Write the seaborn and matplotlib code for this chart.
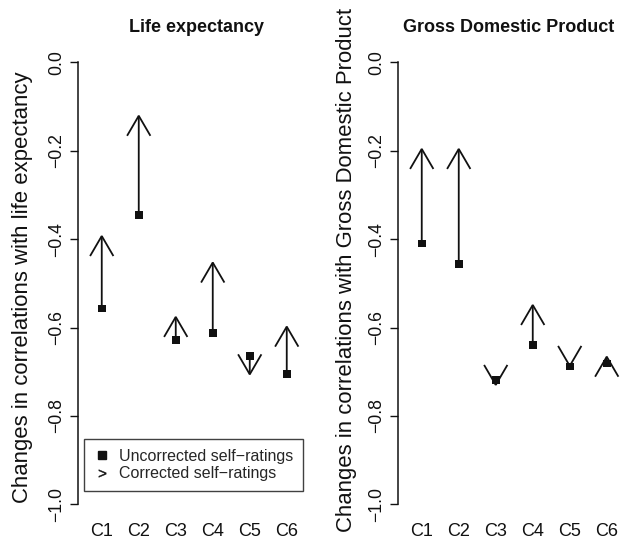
import matplotlib
matplotlib.use("Agg")
import matplotlib.pyplot as plt
import seaborn as sns
import pandas as pd
from matplotlib.patches import FancyArrowPatch, ArrowStyle
from matplotlib.lines import Line2D

categories = ["C1", "C2", "C3", "C4", "C5", "C6"]
positions = [1, 2, 3, 4, 5, 6]

life_uncorrected = [-0.557, -0.345, -0.628, -0.613, -0.664, -0.705]
life_corrected = [-0.389, -0.117, -0.572, -0.449, -0.710, -0.594]

gdp_uncorrected = [-0.410, -0.456, -0.719, -0.640, -0.688, -0.681]
gdp_corrected = [-0.192, -0.192, -0.734, -0.545, -0.691, -0.662]

yticks = [0.0, -0.2, -0.4, -0.6, -0.8, -1.0]
ytick_labels = ["0.0", "\u22120.2", "\u22120.4", "\u22120.6", "\u22120.8", "\u22121.0"]

panels = [
    ("Life expectancy", "Changes in correlations with life expectancy",
     life_uncorrected, life_corrected),
    ("Gross Domestic Product", "Changes in correlations with Gross Domestic Product",
     gdp_uncorrected, gdp_corrected),
]

sns.set_theme(style="white")
plt.rcParams["font.family"] = ["Liberation Sans", "DejaVu Sans"]
plt.rcParams["axes.unicode_minus"] = True

W, H = 635, 539
fig = plt.figure(figsize=(W / 100, H / 100), dpi=100)

# axes boxes in pixels: left, right, top, bottom
boxes = [(77.7, 310.8, 44.6, 522.0), (397.7, 630.8, 44.6, 522.0)]
title_x = [196.5, 509.0]
label_pos = [(23.0, 286.7), (346.7, 270.0)]

head = ArrowStyle("->", head_length=14.4, head_width=8.4)

for i, (title, ylabel, unc, cor) in enumerate(panels):
    l, r, t, b = boxes[i]
    ax = fig.add_axes([l / W, 1 - b / H, (r - l) / W, (b - t) / H])
    ax.set_xlim(0.35, 6.65)
    ax.set_ylim(-1.04, 0.04)

    df = pd.DataFrame({"x": positions, "y": unc})
    sns.scatterplot(data=df, x="x", y="y", marker="s", s=30, color="#111111",
                    edgecolor="none", ax=ax, zorder=3)

    for x, y0, y1 in zip(positions, unc, cor):
        arr = FancyArrowPatch((x, y0), (x, y1), arrowstyle=head, mutation_scale=1,
                              shrinkA=0, shrinkB=0, color="#111111", lw=1.3,
                              capstyle="butt", joinstyle="miter")
        ax.add_patch(arr)

    for side in ["top", "right", "bottom"]:
        ax.spines[side].set_visible(False)
    ax.spines["left"].set_bounds(-1.0, 0.0)
    ax.spines["left"].set_color("#111111")
    ax.spines["left"].set_linewidth(1.1)

    ax.set_yticks(yticks)
    ax.set_yticklabels(ytick_labels, rotation=90, va="center", fontsize=12.7,
                       color="#111111")
    ax.tick_params(axis="y", direction="out", length=6, width=1.0, pad=3,
                   left=True, color="#111111")
    ax.set_xticks(positions)
    ax.set_xticklabels(categories, fontsize=13, color="#111111")
    ax.tick_params(axis="x", length=0, pad=0.5)
    ax.set_xlabel("")
    ax.set_ylabel("")

    lx, ly = label_pos[i]
    fig.text(lx / W, 1 - ly / H, ylabel, rotation=90, ha="center", va="center",
             fontsize=15.9, color="#111111")
    fig.text(title_x[i] / W, 1 - 27 / H, title, ha="center", va="center",
             fontsize=13, fontweight="bold", color="#111111")

    if i == 0:
        handles = [
            Line2D([], [], marker="s", color="#111111", linestyle="none", markersize=6),
            Line2D([], [], marker="$\\mathregular{>}$", color="#111111", linestyle="none",
                   markersize=5.5, markeredgewidth=0.3),
        ]
        leg = ax.legend(handles, ["Uncorrected self\u2212ratings", "Corrected self\u2212ratings"],
                        loc="lower left", bbox_to_anchor=((84 - l) / (r - l), (b - 490.7) / (b - t)),
                        fontsize=11.5, frameon=True, fancybox=False, edgecolor="#111111",
                        handlelength=1.0, handletextpad=0.6, borderpad=0.6,
                        labelspacing=0.15, borderaxespad=0)
        leg.get_frame().set_linewidth(1.0)

fig.savefig("out.png", dpi=100, facecolor="white")
